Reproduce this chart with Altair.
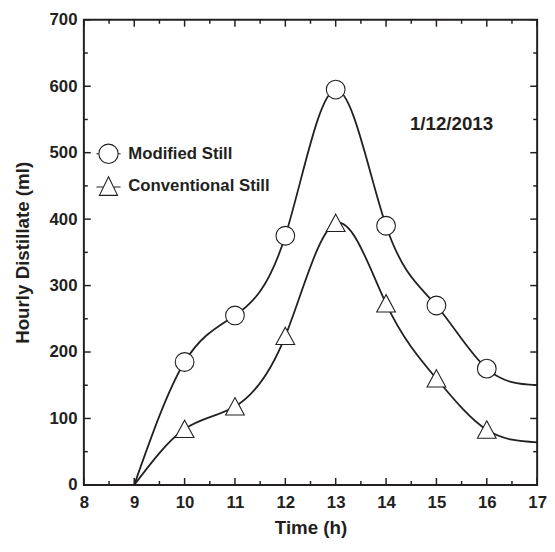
import altair as alt
import pandas as pd

# ---- data ----
hours = [9, 10, 11, 12, 13, 14, 15, 16, 17]
modified = [0, 185, 255, 375, 595, 390, 270, 175, 150]
conventional = [0, 84, 118, 224, 394, 273, 160, 83, 64]
marker_hours = [10, 11, 12, 13, 14, 15, 16]
series_names = ["Modified Still", "Conventional Still"]
x_major = [8, 9, 10, 11, 12, 13, 14, 15, 16, 17]
x_minor = [8.5, 9.5, 10.5, 11.5, 12.5, 13.5, 14.5, 15.5, 16.5]
y_major = [0, 100, 200, 300, 400, 500, 600, 700]
y_minor = [50, 150, 250, 350, 450, 550, 650]
date_label = ["1/12/2013"]
date_hour = [15.3]
date_value = [543]

INK = "#231f20"
FONT = "Liberation Sans"
W, H = 460, 472

rows = []
for name, vals in zip(series_names, [modified, conventional]):
    for h, v in zip(hours, vals):
        rows.append({"hour": h, "value": v, "series": name, "marker": h in marker_hours})
df = pd.DataFrame(rows)

xs = alt.Scale(domain=[8, 17], nice=False, zero=False)
ys = alt.Scale(domain=[0, 700], nice=False)

TRI = "M0,-0.95L1,0.9L-1,0.9Z"
LEG_CIRCLE = ("M-1,0L-0.8,0M0.8,0L1,0M-0.8,0A0.8,0.8,0,1,1,0.8,0"
              "A0.8,0.8,0,1,1,-0.8,0Z")
LEG_TRI = "M-1,0.05L-0.39,0.05M0.39,0.05L1,0.05M0,-0.8L0.75,0.75L-0.75,0.75Z"

base = alt.Chart(df)

lines = base.mark_line(interpolate="natural", color=INK, strokeWidth=1.8).encode(
    x=alt.X("hour:Q", scale=xs, title="Time (h)",
            axis=alt.Axis(values=x_major, ticks=False, domain=False, grid=False,
                          labelFont=FONT, labelFontSize=17, labelFontWeight="bold",
                          labelColor=INK, labelPadding=10, labelFlush=False,
                          titleFont=FONT, titleFontSize=19, titleFontWeight="bold",
                          titleColor=INK, titlePadding=8)),
    y=alt.Y("value:Q", scale=ys, title="Hourly Distillate (ml)",
            axis=alt.Axis(values=y_major, ticks=False, domain=False, grid=False,
                          labelFont=FONT, labelFontSize=17, labelFontWeight="bold",
                          labelColor=INK, labelPadding=7, labelFlush=False,
                          titleFont=FONT, titleFontSize=19, titleFontWeight="bold",
                          titleColor=INK, titlePadding=17)),
    detail="series:N",
)

points = base.transform_filter("datum.marker").mark_point(
    filled=True, fill="white", stroke=INK, strokeWidth=1.1, opacity=1, size=361
).encode(
    x=alt.X("hour:Q", scale=xs, axis=None),
    y=alt.Y("value:Q", scale=ys, axis=None),
    shape=alt.Shape("series:N", scale=alt.Scale(domain=series_names, range=["circle", TRI]),
                    legend=None),
)


# ---- inward ticks on all four sides ----
def x_ticks(vals, length, at_bottom):
    y0 = H if at_bottom else 0
    y1 = H - length if at_bottom else length
    return alt.Chart(pd.DataFrame({"t": vals})).mark_rule(color=INK, strokeWidth=1.5).encode(
        x=alt.X("t:Q", scale=xs, axis=None), y=alt.value(y0), y2=alt.value(y1))


def y_ticks(vals, length, at_left):
    x0 = 0 if at_left else W
    x1 = length if at_left else W - length
    return alt.Chart(pd.DataFrame({"t": vals})).mark_rule(color=INK, strokeWidth=1.5).encode(
        y=alt.Y("t:Q", scale=ys, axis=None), x=alt.value(x0), x2=alt.value(x1))


ticks = [
    x_ticks(x_major, 7, True), x_ticks(x_minor, 4, True),
    x_ticks(x_major, 7, False), x_ticks(x_minor, 4, False),
    y_ticks(y_major, 7, True), y_ticks(y_minor, 4, True),
    y_ticks(y_major, 7, False), y_ticks(y_minor, 4, False),
]


# ---- legend (drawn inside the plot) ----
def legend_entry(name, path, ypix):
    d = alt.Chart(pd.DataFrame({"label": [name]}))
    sym = d.mark_point(filled=True, fill="white", stroke=INK, strokeWidth=1.1,
                       opacity=1).encode(
        x=alt.value(25), y=alt.value(ypix), shape=alt.value(path), size=alt.value(600))
    txt = d.mark_text(font=FONT, fontSize=17, fontWeight="bold", color=INK,
                      align="left", baseline="middle").encode(
        x=alt.value(45), y=alt.value(ypix), text="label:N")
    return [sym, txt]


legend_layers = legend_entry(series_names[0], LEG_CIRCLE, 136) + \
    legend_entry(series_names[1], LEG_TRI, 169)

ann_df = pd.DataFrame({"hour": date_hour, "value": date_value, "label": date_label})
ann = alt.Chart(ann_df).mark_text(font=FONT, fontSize=19, fontWeight="bold", color=INK,
                                  align="center", baseline="middle").encode(
    x=alt.X("hour:Q", scale=xs, axis=None),
    y=alt.Y("value:Q", scale=ys, axis=None),
    text="label:N",
)

chart = alt.layer(lines, points, *ticks, *legend_layers, ann).resolve_axis(
    x="independent", y="independent"
).properties(
    width=W, height=H,
    autosize=alt.AutoSizeParams(type="none"),
    padding={"left": 77, "top": 8, "right": 10, "bottom": 56},
).configure_view(stroke=INK, strokeWidth=2)

chart.save("out.html", embed_options={"renderer": "svg", "actions": False})
